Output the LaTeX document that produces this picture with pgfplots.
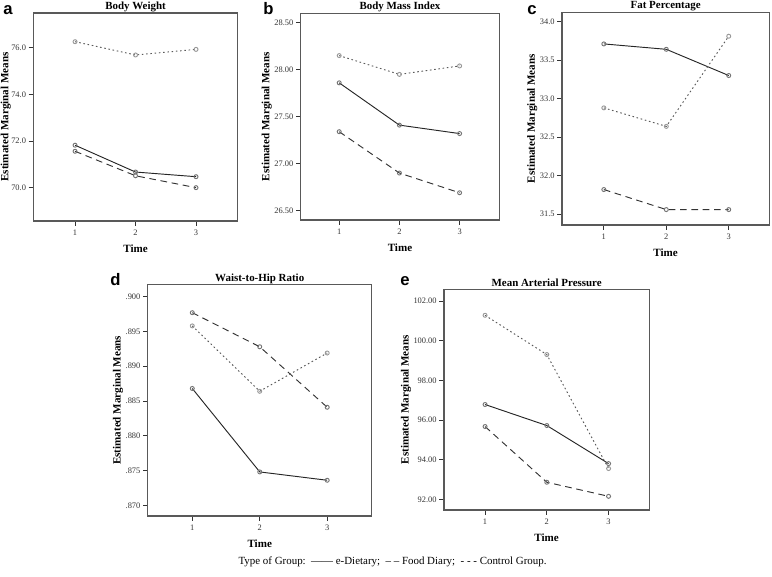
\documentclass[border=0pt]{standalone}
\usepackage{fontspec}
\setmainfont{Liberation Serif}
\newfontfamily\lettersf{Liberation Sans}
\usepackage{pgfplots}
\pgfplotsset{compat=1.18}

% SPSS-like profile plot look
\pgfplotsset{
  spss/.style={
    scale only axis,
    anchor=south west,
    axis line style={draw=black!65, line width=0.9pt},
    tick pos=left, tick align=outside,
    major tick length=3.5pt,
    tick style={black!80, line width=0.6pt},
    xtick={1,2,3}, xticklabels={1,2,3},
    ticklabel style={font=\fontsize{6.3}{7}\selectfont, text=black!80},
    yticklabel style={xshift=1.5pt},
    xlabel={Time},
    ylabel={Estimated Marginal Means},
    ylabel shift=-5pt,
    label style={font=\bfseries\fontsize{8.3}{9}\selectfont},
    every axis title shift=0pt,
    title style={font=\bfseries\fontsize{8.2}{9}\selectfont, at={(0.5,1)}, anchor=base, yshift=2.5pt},
    every axis plot/.append style={line width=0.7pt},
  },
  grpA/.style={black!85, solid, mark=o, mark options={solid, black!55, mark size=1.5pt}},
  grpB/.style={black!80, dash pattern=on 5pt off 3.5pt, mark=o, mark options={solid, black!55, mark size=1.5pt}},
  grpC/.style={black!65, dash pattern=on 1.2pt off 2pt, mark=o, mark options={solid, black!40, mark size=1.5pt}},
}

\begin{document}
\begin{tikzpicture}
  \useasboundingbox (0,0) rectangle (579pt,432pt);

  % a
  \begin{axis}[spss, at={(25pt,266.25pt)}, width=153.3pt, height=156pt,
      xmin=0.31, xmax=3.69, ymin=68.57, ymax=77.49,
      ytick={70,72,74,76}, yticklabels={70.0,72.0,74.0,76.0},
      ylabel shift=-6.5pt,
      title={Body Weight}]
    \addplot[grpA] coordinates {(1,71.82) (2,70.67) (3,70.47)};
    \addplot[grpB] coordinates {(1,71.56) (2,70.51) (3,70.00)};
    \addplot[grpC] coordinates {(1,76.26) (2,75.69) (3,75.93)};
  \end{axis}

  % b
  \begin{axis}[spss, at={(225.5pt,267pt)}, width=149pt, height=155pt,
      xmin=0.36, xmax=3.66, ymin=26.40, ymax=28.60,
      ytick={26.5,27,27.5,28,28.5}, yticklabels={26.50,27.00,27.50,28.00,28.50},
      title={Body Mass Index}]
    \addplot[grpA] coordinates {(1,27.86) (2,27.41) (3,27.32)};
    \addplot[grpB] coordinates {(1,27.34) (2,26.90) (3,26.69)};
    \addplot[grpC] coordinates {(1,28.15) (2,27.95) (3,28.04)};
  \end{axis}

  % c
  \begin{axis}[spss, at={(421.5pt,263.25pt)}, width=155.5pt, height=159.5pt,
      xmin=0.33, xmax=3.65, ymin=31.36, ymax=34.12,
      ytick={31.5,32,32.5,33,33.5,34}, yticklabels={31.5,32.0,32.5,33.0,33.5,34.0},
      title={Fat Percentage}, title style={yshift=0.5pt}]
    \addplot[grpA] coordinates {(1,33.71) (2,33.64) (3,33.30)};
    \addplot[grpB] coordinates {(1,31.82) (2,31.56) (3,31.56)};
    \addplot[grpC] coordinates {(1,32.88) (2,32.64) (3,33.81)};
  \end{axis}

  % d
  \begin{axis}[spss, at={(110.8pt,45pt)}, width=168pt, height=173.5pt,
      xmin=0.34, xmax=3.66, ymin=0.86846, ymax=0.90173,
      ytick={0.870,0.875,0.880,0.885,0.890,0.895,0.900},
      yticklabels={.870,.875,.880,.885,.890,.895,.900},
      title={Waist-to-Hip Ratio}]
    \addplot[grpA] coordinates {(1,0.8868) (2,0.8748) (3,0.8736)};
    \addplot[grpB] coordinates {(1,0.8977) (2,0.8928) (3,0.8841)};
    \addplot[grpC] coordinates {(1,0.8958) (2,0.8864) (3,0.8919)};
  \end{axis}

  % e
  \begin{axis}[spss, at={(333pt,49.5pt)}, width=154pt, height=165.5pt,
      xmin=0.335, xmax=3.66, ymin=91.46, ymax=102.59,
      ytick={92,94,96,98,100,102}, yticklabels={92.00,94.00,96.00,98.00,100.00,102.00},
      title={Mean Arterial Pressure}]
    \addplot[grpA] coordinates {(1,96.78) (2,95.72) (3,93.80)};
    \addplot[grpB] coordinates {(1,95.67) (2,92.86) (3,92.15)};
    \addplot[grpC] coordinates {(1,101.28) (2,99.30) (3,93.55)};
  \end{axis}

  % panel letters
  \begin{scope}[every node/.style={anchor=base west, inner sep=0pt, font=\lettersf\bfseries\fontsize{12.5}{12.5}\selectfont}]
    \node at (2.25pt,420.75pt) {a};
    \node at (197.25pt,420.75pt) {b};
    \node at (395.25pt,420.75pt) {c};
    \node at (82.5pt,218.25pt) {d};
    \node at (300pt,218.25pt) {e};
  \end{scope}

  \node[font=\fontsize{8.2}{9}\selectfont] at (294.4pt,10.5pt)
    {Type of Group:\ \ —— e-Dietary;\ \ – – Food Diary;\ \ - - - Control Group.};
\end{tikzpicture}
\end{document}
